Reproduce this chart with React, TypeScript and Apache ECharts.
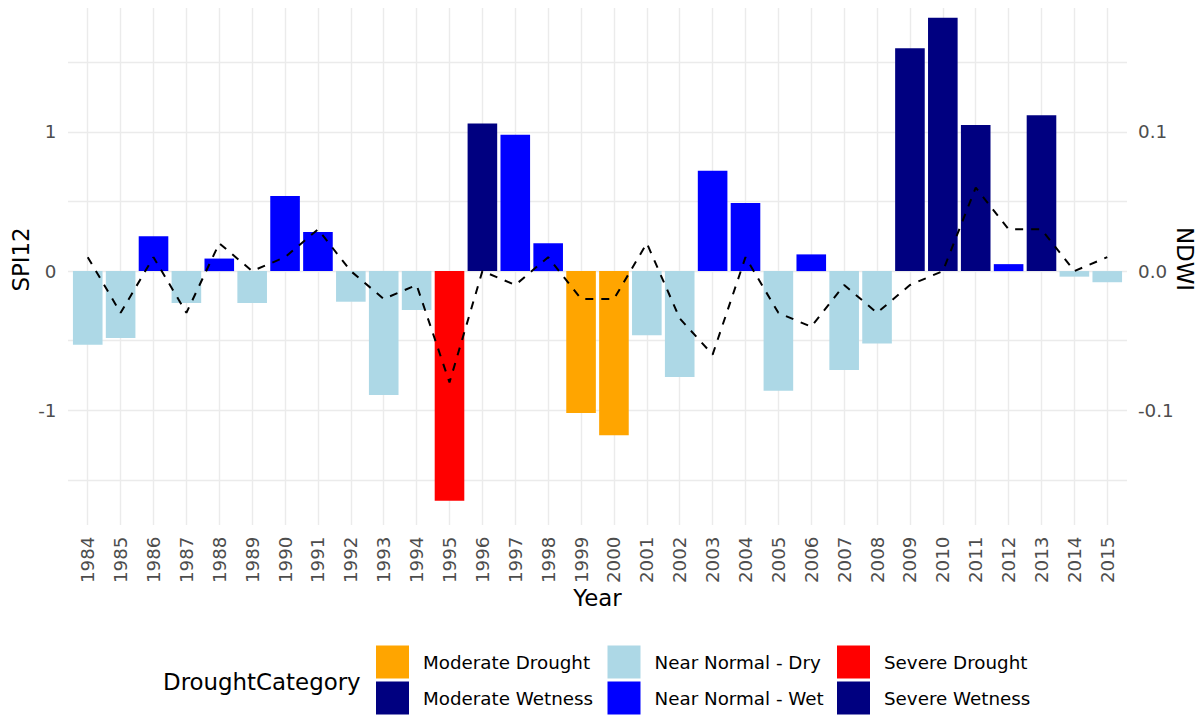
import React, { useEffect, useRef } from 'react';
import * as echarts from 'echarts';

const FONT = 'DejaVu Sans';

const years = [1984, 1985, 1986, 1987, 1988, 1989, 1990, 1991, 1992, 1993, 1994, 1995, 1996, 1997, 1998, 1999,
  2000, 2001, 2002, 2003, 2004, 2005, 2006, 2007, 2008, 2009, 2010, 2011, 2012, 2013, 2014, 2015];

const spi12 = [-0.53, -0.48, 0.25, -0.23, 0.09, -0.23, 0.54, 0.28, -0.22, -0.89, -0.28, -1.65, 1.06, 0.98, 0.2, -1.02,
  -1.18, -0.46, -0.76, 0.72, 0.49, -0.86, 0.12, -0.71, -0.52, 1.6, 1.82, 1.05, 0.05, 1.12, -0.04, -0.08];

const ndwi = [0.01, -0.03, 0.01, -0.03, 0.02, 0.0, 0.01, 0.03, 0.0, -0.02, -0.01, -0.08, 0.0, -0.01, 0.01, -0.02,
  -0.02, 0.02, -0.034, -0.06, 0.01, -0.03, -0.04, -0.01, -0.03, -0.01, 0.0, 0.06, 0.03, 0.03, 0.0, 0.01];

const droughtCategory = [
  'Near Normal - Dry', 'Near Normal - Dry', 'Near Normal - Wet', 'Near Normal - Dry', 'Near Normal - Wet',
  'Near Normal - Dry', 'Near Normal - Wet', 'Near Normal - Wet', 'Near Normal - Dry', 'Near Normal - Dry',
  'Near Normal - Dry', 'Severe Drought', 'Moderate Wetness', 'Near Normal - Wet', 'Near Normal - Wet',
  'Moderate Drought', 'Moderate Drought', 'Near Normal - Dry', 'Near Normal - Dry', 'Near Normal - Wet',
  'Near Normal - Wet', 'Near Normal - Dry', 'Near Normal - Wet', 'Near Normal - Dry', 'Near Normal - Dry',
  'Severe Wetness', 'Severe Wetness', 'Moderate Wetness', 'Near Normal - Wet', 'Moderate Wetness',
  'Near Normal - Dry', 'Near Normal - Dry'];

const categories = ['Moderate Drought', 'Moderate Wetness', 'Near Normal - Dry', 'Near Normal - Wet', 'Severe Drought', 'Severe Wetness'];
const categoryColors = ['#FFA500', '#000080', '#ADD8E6', '#0000FF', '#FF0000', '#000080'];

const legendColumns = [
  ['Moderate Drought', 'Moderate Wetness'],
  ['Near Normal - Dry', 'Near Normal - Wet'],
  ['Severe Drought', 'Severe Wetness'],
];

export default function App() {
  const ref = useRef<HTMLDivElement>(null);

  useEffect(() => {
    if (!ref.current) return;
    const chart = echarts.init(ref.current, null, { renderer: 'svg' });

    const TICK = 18.3;
    const TITLE = 22.9;

    const gridLine = { show: true, showMinLine: false, showMaxLine: false, lineStyle: { color: '#EBEBEB', width: 1.4 } };

    const barSeries = categories.map((c, i) => ({
      type: 'bar',
      name: c,
      xAxisIndex: 0,
      yAxisIndex: 0,
      barWidth: 29.6,
      barGap: '-100%',
      itemStyle: { color: categoryColors[i] },
      data: years.map((y, k) => (droughtCategory[k] === c ? [y, spi12[k]] : null)).filter((d) => d !== null),
      z: 2,
    }));

    const legendLefts = [376, 607.5, 837];

    const option: any = {
      animation: false,
      backgroundColor: '#ffffff',
      textStyle: { fontFamily: FONT },
      grid: { left: 68, right: 77, top: 8, bottom: 191, containLabel: false },
      xAxis: {
        type: 'value',
        min: 1983.4,
        max: 2015.6,
        minInterval: 1,
        maxInterval: 1,
        axisLine: { show: false },
        axisTick: { show: false },
        splitLine: gridLine,
        axisLabel: {
          rotate: 90,
          margin: 11.5,
          fontSize: TICK,
          color: '#4D4D4D',
          fontFamily: FONT,
          showMinLabel: false,
          showMaxLabel: false,
          formatter: (v: number) => (Math.abs(v - Math.round(v)) < 1e-6 ? String(Math.round(v)) : ''),
        },
      },
      yAxis: [
        {
          type: 'value',
          min: -1.824,
          max: 1.89,
          minInterval: 0.5,
          maxInterval: 0.5,
          axisLine: { show: false },
          axisTick: { show: false },
          splitLine: gridLine,
          axisLabel: {
            margin: 11.5,
            fontSize: TICK,
            color: '#4D4D4D',
            fontFamily: FONT,
            showMinLabel: false,
            showMaxLabel: false,
            formatter: (v: number) => (Math.abs(v - Math.round(v)) < 1e-6 ? String(Math.round(v)) : ''),
          },
        },
        {
          type: 'value',
          position: 'right',
          min: -0.1824,
          max: 0.189,
          minInterval: 0.05,
          maxInterval: 0.05,
          axisLine: { show: false },
          axisTick: { show: false },
          splitLine: { show: false },
          axisLabel: {
            margin: 11,
            fontSize: TICK,
            color: '#4D4D4D',
            fontFamily: FONT,
            showMinLabel: false,
            showMaxLabel: false,
            formatter: (v: number) => {
              const t = v * 10;
              if (Math.abs(t - Math.round(t)) > 1e-6) return '';
              const r = Math.round(t) / 10;
              return (r === 0 ? 0 : r).toFixed(1);
            },
          },
        },
      ],
      legend: legendColumns.map((col, i) => ({
        data: col,
        orient: 'vertical',
        left: legendLefts[i],
        top: 645.5,
        padding: 0,
        itemWidth: 33,
        itemHeight: 33,
        itemGap: 3,
        icon: 'rect',
        selectedMode: false,
        textStyle: { fontSize: TICK, color: '#000000', fontFamily: FONT, padding: [0, 0, 0, 9] },
      })),
      graphic: [
        {
          type: 'text',
          x: 163,
          y: 681.5,
          style: { text: 'DroughtCategory', fontSize: TITLE, fill: '#000000', fontFamily: FONT, align: 'left', verticalAlign: 'middle' },
        },
        {
          type: 'text',
          x: 20.5,
          y: 259.5,
          rotation: Math.PI / 2,
          style: { text: 'SPI12', fontSize: TITLE, fill: '#000000', fontFamily: FONT, align: 'center', verticalAlign: 'middle' },
        },
        {
          type: 'text',
          x: 1184.5,
          y: 259,
          rotation: -Math.PI / 2,
          style: { text: 'NDWI', fontSize: TITLE, fill: '#000000', fontFamily: FONT, align: 'center', verticalAlign: 'middle' },
        },
        {
          type: 'text',
          x: 597.5,
          y: 597.5,
          style: { text: 'Year', fontSize: TITLE, fill: '#000000', fontFamily: FONT, align: 'center', verticalAlign: 'middle' },
        },
      ],
      series: [
        ...barSeries,
        {
          type: 'line',
          name: 'NDWI',
          xAxisIndex: 0,
          yAxisIndex: 1,
          data: years.map((y, k) => [y, ndwi[k]]),
          showSymbol: false,
          symbol: 'none',
          lineStyle: { color: '#000000', width: 2, type: [8, 8] },
          z: 5,
        },
      ],
    };

    chart.setOption(option);
    return () => chart.dispose();
  }, []);

  return <div ref={ref} style={{ position: 'absolute', left: 0, top: 0, width: 1204, height: 716 }} />;
}
